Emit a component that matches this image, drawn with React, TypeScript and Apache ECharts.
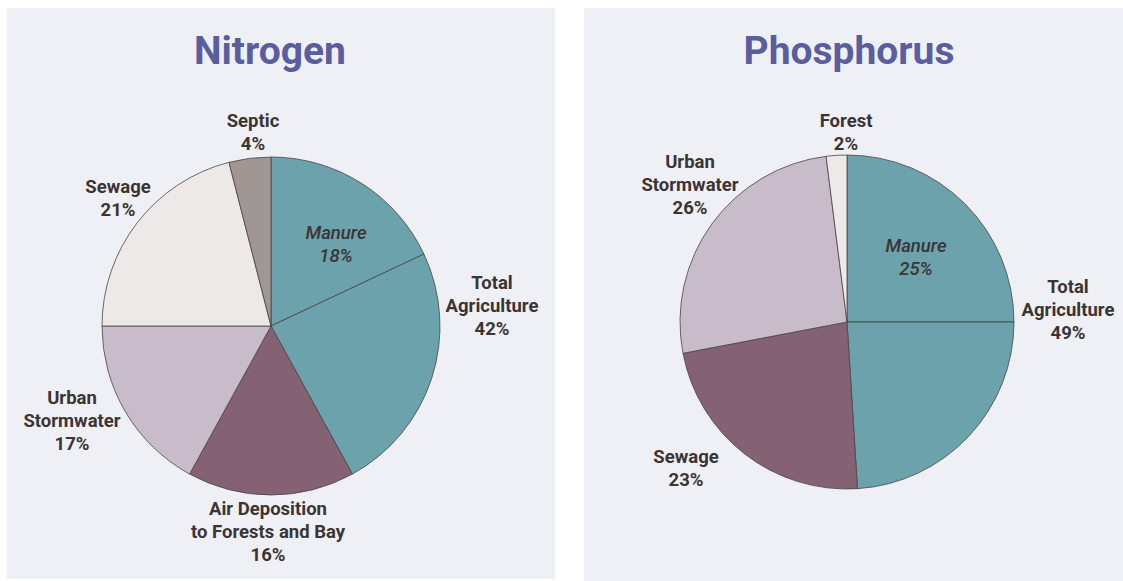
import React, { useEffect, useRef } from "react";
import * as echarts from "echarts";

const nitrogenCategories = ["Manure", "Other Agriculture", "Air Deposition", "Urban Stormwater", "Sewage", "Septic"];
const nitrogenValues = [18, 24, 16, 17, 21, 4];
const nitrogenTotalAgriculture = 42;

const phosphorusCategories = ["Manure", "Other Agriculture", "Sewage", "Urban Stormwater", "Forest"];
const phosphorusValues = [25, 24, 23, 26, 2];
const phosphorusTotalAgriculture = 49;

const FONT = 'Roboto, "DejaVu Sans Condensed", sans-serif';
const LABEL_COLOR = "#3b3434";

const colorMap: Record<string, Record<string, string>> = {
  n: {
    Manure: "#6ba2ab",
    "Other Agriculture": "#6ba2ab",
    "Air Deposition": "#846274",
    "Urban Stormwater": "#c8bccb",
    Sewage: "#ede9e9",
    Septic: "#a09694",
  },
  p: {
    Manure: "#6ba2ab",
    "Other Agriculture": "#6ba2ab",
    Sewage: "#846274",
    "Urban Stormwater": "#c8bccb",
    Forest: "#ede9e9",
  },
};

const labelText: Record<string, (v: number, total: number) => string> = {
  Manure: (v) => `Manure\n${v}%`,
  "Other Agriculture": (_v, t) => `Total\nAgriculture\n${t}%`,
  "Air Deposition": (v) => `Air Deposition\nto Forests and Bay\n${v}%`,
  "Urban Stormwater": (v) => `Urban\nStormwater\n${v}%`,
  Sewage: (v) => `Sewage\n${v}%`,
  Septic: (v) => `Septic\n${v}%`,
  Forest: (v) => `Forest\n${v}%`,
};

// label anchor positions (label centre, in pixels)
const nitrogenLabelPos: Record<string, [number, number]> = {
  Manure: [336, 244],
  "Other Agriculture": [492, 306],
  "Air Deposition": [268, 532],
  "Urban Stormwater": [72, 421],
  Sewage: [118, 198],
  Septic: [253, 132],
};
const phosphorusLabelPos: Record<string, [number, number]> = {
  Manure: [916, 257],
  "Other Agriculture": [1068, 310],
  Sewage: [686, 468],
  "Urban Stormwater": [690, 185],
  Forest: [846, 132],
};

function buildSeries(
  key: string,
  cats: string[],
  vals: number[],
  total: number,
  center: [number, number],
  radius: number,
  pos: Record<string, [number, number]>
) {
  return {
    type: "pie",
    center,
    radius,
    startAngle: 90,
    clockwise: true,
    silent: true,
    data: cats.map((c, i) => ({
      name: c,
      value: vals[i],
      itemStyle: { color: colorMap[key][c] },
      label: c === "Manure" ? { fontStyle: "italic", fontWeight: 500, color: "#3b3434" } : {},
    })),
    itemStyle: { borderColor: "#4a4444", borderWidth: 0.8 },
    label: {
      show: true,
      position: "outside",
      formatter: (p: any) => labelText[p.name](p.value, total),
      fontFamily: FONT,
      fontWeight: "bold",
      fontSize: 18.5,
      lineHeight: 23,
      color: LABEL_COLOR,
      align: "center",
      overflow: "none",
    },
    labelLine: { show: false },
    labelLayout: (params: any) => {
      const name = cats[params.dataIndex];
      const p = pos[name];
      return { x: p[0], y: p[1], align: "center", verticalAlign: "middle" };
    },
  };
}

export default function App() {
  const ref = useRef<HTMLDivElement>(null);
  useEffect(() => {
    document.body.style.margin = "0";
    const chart = echarts.init(ref.current!, null, { renderer: "svg" });
    chart.setOption({
      animation: false,
      backgroundColor: "#ffffff",
      title: [
        {
          text: "Nitrogen",
          left: 265,
          top: 26,
          textAlign: "center",
          textStyle: { fontFamily: FONT, fontSize: 39, fontWeight: "bold", color: "#5a5e9e" },
        },
        {
          text: "Phosphorus",
          left: 844,
          top: 26,
          textAlign: "center",
          textStyle: { fontFamily: FONT, fontSize: 39, fontWeight: "bold", color: "#5a5e9e" },
        },
      ],
      graphic: [
        { type: "rect", z: -10, shape: { x: 7, y: 8, width: 548, height: 571 }, style: { fill: "#eff0f6" } },
        { type: "rect", z: -10, shape: { x: 584, y: 8, width: 539, height: 573 }, style: { fill: "#eff0f6" } },
      ],
      series: [
        buildSeries("n", nitrogenCategories, nitrogenValues, nitrogenTotalAgriculture, [271, 326], 169, nitrogenLabelPos),
        buildSeries("p", phosphorusCategories, phosphorusValues, phosphorusTotalAgriculture, [847, 322], 167, phosphorusLabelPos),
      ],
    });
    return () => chart.dispose();
  }, []);
  return <div ref={ref} style={{ width: 1123, height: 581 }} />;
}
